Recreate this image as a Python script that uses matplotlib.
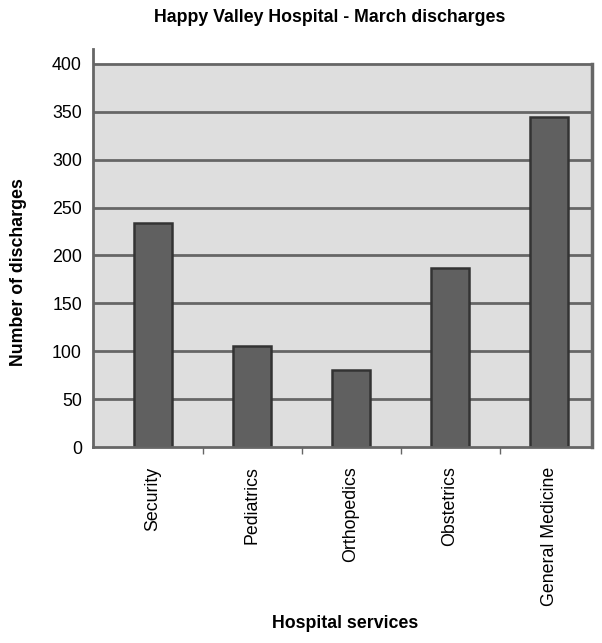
import matplotlib
matplotlib.use("Agg")
import matplotlib.pyplot as plt
from matplotlib.ticker import FixedLocator

plt.rcParams['font.family'] = ['Liberation Sans', 'DejaVu Sans']

# data
services = ["Security", "Pediatrics", "Orthopedics", "Obstetrics", "General Medicine"]
discharges = [234, 105, 80, 187, 345]
yticks = [0, 50, 100, 150, 200, 250, 300, 350, 400]

fig = plt.figure(figsize=(6.02, 6.43), dpi=100)
ax = fig.add_axes([93 / 602, 196 / 643, 499 / 602, 398 / 643])

ymax = 400 * 398 / 383
x0, x1 = -0.606, 4.434
ax.set_ylim(0, ymax)
ax.set_xlim(x0, x1)

# grey plot area only up to 400, axis line goes a bit higher
ax.axhspan(0, 400, color="#dedede", zorder=0)
for v in yticks[1:]:
    ax.axhline(v, color="#666666", lw=2, zorder=1)
ax.axvline(x1, ymax=400 / ymax, color="#666666", lw=2.5, zorder=1, clip_on=False)

x = range(len(services))
ax.bar(x, discharges, width=0.39, color="#606060", edgecolor="#333333",
       linewidth=1.8, zorder=2)

for side in ["top", "right"]:
    ax.spines[side].set_visible(False)
for side in ["left", "bottom"]:
    ax.spines[side].set_color("#666666")
    ax.spines[side].set_linewidth(2)

ax.set_yticks(yticks)
ax.set_yticklabels([str(v) for v in yticks], fontsize=12.8)
ax.tick_params(axis="y", length=0, pad=8)

ax.set_xticks(list(x))
ax.set_xticklabels(services, rotation=90, fontsize=12.8)
ax.xaxis.set_minor_locator(FixedLocator([0.5, 1.5, 2.5, 3.5]))
ax.tick_params(axis="x", which="major", length=0, pad=14)
ax.tick_params(axis="x", which="minor", length=5, color="#666666", width=1)

fig.text(330 / 602, 1 - 17 / 643, "Happy Valley Hospital - March discharges",
         ha="center", va="center", fontsize=12.8, fontweight="bold")
fig.text(345 / 602, 1 - 623 / 643, "Hospital services",
         ha="center", va="center", fontsize=12.8, fontweight="bold")
fig.text(19 / 602, 1 - 272 / 643, "Number of discharges", rotation=90,
         ha="center", va="center", fontsize=12.8, fontweight="bold")

fig.savefig("out.png", dpi=100)
